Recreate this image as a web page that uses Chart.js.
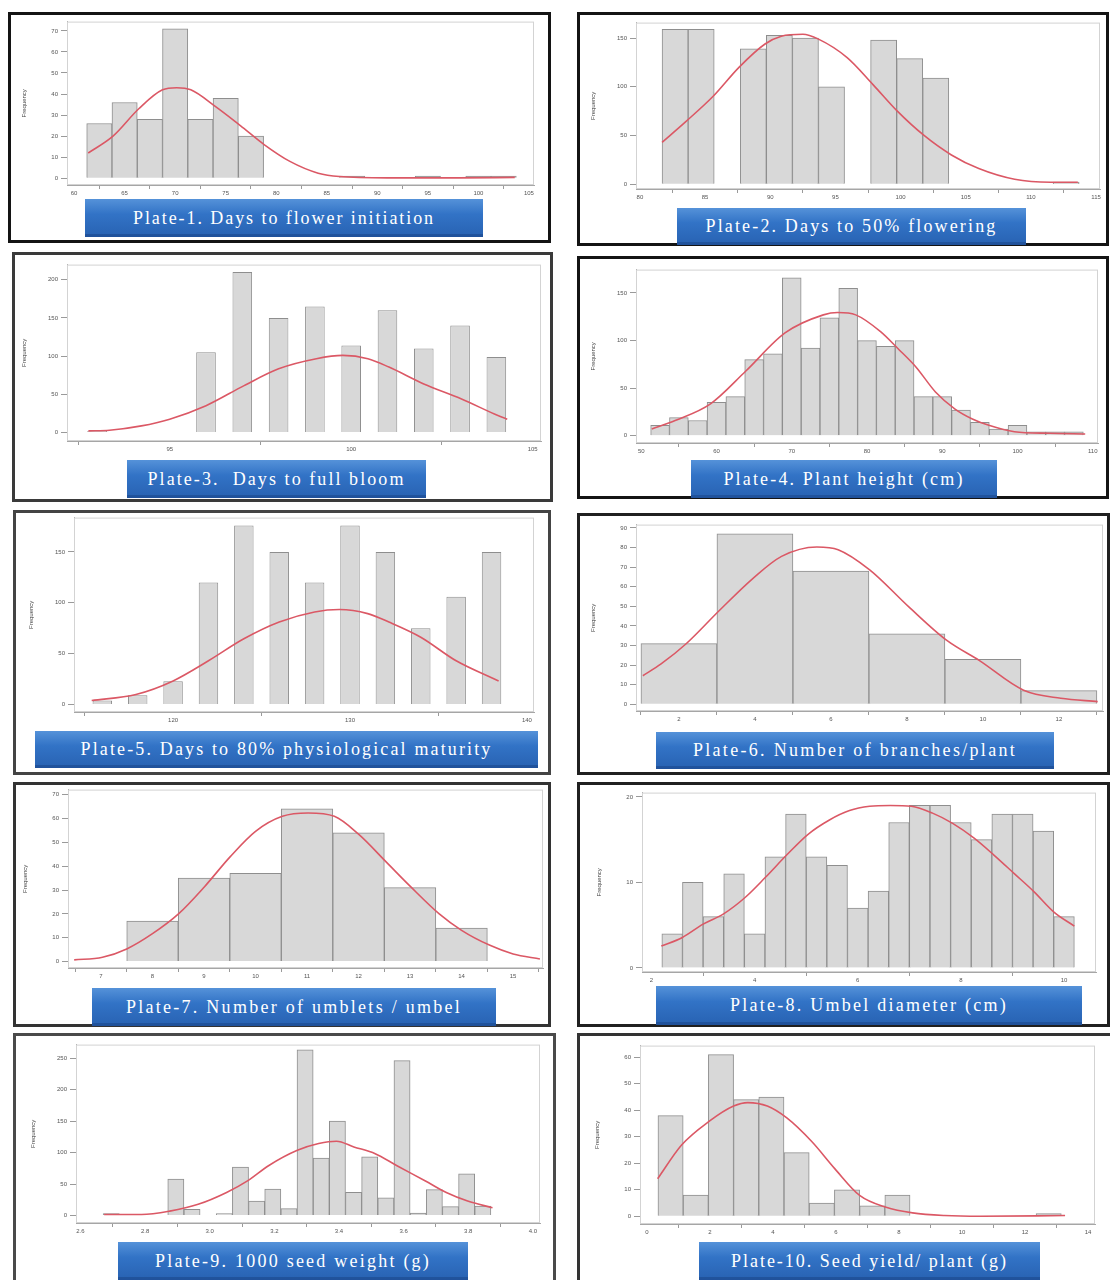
<!DOCTYPE html>
<html>
<head>
<meta charset="utf-8">
<script src="https://cdn.jsdelivr.net/npm/chart.js@4/dist/chart.umd.min.js"></script>
<style>
  html, body { margin: 0; padding: 0; background: #fff; }
  body { position: relative; width: 1110px; height: 1280px; overflow: hidden; }
  .panel { position: absolute; box-sizing: border-box; border: 3px solid #151515; background: #fff; }
  .cap {
    position: absolute; box-sizing: border-box; z-index: 3;
    display: flex; align-items: center; justify-content: center;
    color: #fff; font-family: "Liberation Serif", "DejaVu Serif", serif; font-size: 18px;
    white-space: pre;
    background: linear-gradient(180deg, #5592d9 0%, #3273c6 40%, #2862b2 100%);
    box-shadow: inset 0 -3px 0 rgba(18, 52, 112, 0.35);
  }
  canvas { position: absolute; z-index: 2; }
</style>
</head>
<body>
<script>
// ---------- Plate-1: Days to flower initiation ----------
const p1Bins   = [62.5, 65, 67.5, 70, 72.5, 75, 77.5, 80, 82.5, 85, 87.5, 90, 92.5, 95, 97.5, 100, 102.5];
const p1Counts = [26, 36, 28, 71, 28, 38, 20, 0, 0, 0, 1, 0, 0, 1, 0, 1, 1];
const p1CurveX = [61.4, 63.85, 66.4, 68.75, 70.15, 71.55, 74.0, 76.45, 78.8, 81.35, 84.15, 86.25, 91, 98, 103.6];
const p1CurveY = [12, 20, 33, 42, 43, 42, 34, 25, 16, 8, 2.4, 0.8, 0.2, 0.2, 0.4];
const p1XTicks = [60, 65, 70, 75, 80, 85, 90, 95, 100, 105];
const p1YTicks = [0, 10, 20, 30, 40, 50, 60, 70];

// ---------- Plate-2: Days to 50% flowering ----------
const p2Bins   = [82.7, 84.7, 86.7, 88.7, 90.7, 92.7, 94.7, 96.7, 98.7, 100.7, 102.7, 104.7, 106.7, 108.7, 110.7, 112.7];
const p2Counts = [159, 159, 0, 139, 153, 150, 100, 0, 148, 129, 109, 0, 0, 0, 0, 2];
const p2CurveX = [81.7, 83.5, 85.6, 87.6, 89.6, 90.85, 92.5, 93.7, 95.9, 97.9, 99.75, 101.8, 103.9, 106, 108.75, 111.5, 113.6];
const p2CurveY = [43, 64, 90, 120, 144, 152, 154, 149, 130, 102, 75, 50, 30, 16, 5, 2, 2];
const p2XTicks = [80, 85, 90, 95, 100, 105, 110, 115];
const p2YTicks = [0, 50, 100, 150];

// ---------- Plate-3: Days to full bloom ----------
const p3Bins   = [93, 94, 95, 96, 97, 98, 99, 100, 101, 102, 103, 104];
const p3Counts = [2, 0, 0, 105, 210, 150, 165, 114, 160, 110, 140, 99];
const p3CurveX = [92.76, 93.34, 94.22, 95.0, 96.0, 97.05, 98.0, 99.04, 99.77, 100.46, 101.04, 102.0, 103.04, 104.06, 104.3];
const p3CurveY = [2.2, 3.1, 8.8, 17.6, 35.2, 61.5, 83.5, 96.7, 101, 96.7, 85.7, 63.7, 44, 22, 17.6];
const p3XTicks = [95, 100, 105];
const p3YTicks = [0, 50, 100, 150, 200];

// ---------- Plate-4: Plant height (cm) ----------
const p4Bins   = [52.5, 55, 57.5, 60, 62.5, 65, 67.5, 70, 72.5, 75, 77.5, 80, 82.5, 85, 87.5, 90, 92.5, 95, 97.5, 100, 102.5, 105, 107.5];
const p4Counts = [11, 19, 16, 35, 41, 80, 86, 166, 92, 124, 155, 100, 94, 100, 41, 41, 27, 14, 7, 11, 4, 4, 4];
const p4CurveX = [51.4, 54.5, 59.2, 63.9, 69.1, 74.2, 76.1, 78.5, 81.8, 84.1, 86.5, 89.1, 91.7, 94.0, 96.3, 99.6, 104.3, 109];
const p4CurveY = [7, 16, 33.5, 68, 108, 127, 129.5, 127, 109.4, 91.7, 72.3, 46, 28, 17.6, 10.6, 4.2, 2.5, 1.8];
const p4XTicks = [50, 60, 70, 80, 90, 100, 110];
const p4YTicks = [0, 50, 100, 150];

// ---------- Plate-5: Days to 80% physiological maturity ----------
const p5Bins   = [116, 118, 120, 122, 124, 126, 128, 130, 132, 134, 136, 138];
const p5Counts = [4, 9, 23, 120, 176, 150, 120, 176, 150, 75, 106, 150];
const p5CurveX = [115.4, 117.9, 120, 122, 124, 126, 128, 129.4, 131, 132.2, 134, 136, 138.4];
const p5CurveY = [4, 9.9, 23.2, 43, 64.6, 81.1, 91, 93.4, 89.4, 81.1, 66.2, 43, 23.2];
const p5XTicks = [120, 130, 140];
const p5YTicks = [0, 50, 100, 150];

// ---------- Plate-6: Number of branches/plant ----------
const p6Bins   = [2, 4, 6, 8, 10, 12];
const p6Counts = [31, 87, 68, 36, 23, 7];
const p6CurveX = [1.05, 1.53, 2.19, 3.07, 3.95, 4.7, 5.63, 6.19, 7.02, 8.05, 9.05, 9.91, 11.07, 12.05, 13.02];
const p6CurveY = [14.6, 20.6, 30.9, 48, 64.3, 75.5, 80.3, 78.9, 68.6, 49.7, 32.6, 22.3, 7.2, 3.1, 1.4];
const p6XTicks = [2, 4, 6, 8, 10, 12];
const p6YTicks = [0, 10, 20, 30, 40, 50, 60, 70, 80, 90];

// ---------- Plate-7: Number of umblets / umbel ----------
const p7Bins   = [8, 9, 10, 11, 12, 13, 14];
const p7Counts = [17, 35, 37, 64, 54, 31, 14];
const p7CurveX = [6.48, 7.03, 7.5, 8.0, 8.51, 9.01, 9.51, 10.0, 10.52, 11.02, 11.53, 12.01, 12.53, 13.01, 13.56, 14.0, 14.55, 15.0, 15.52];
const p7CurveY = [0.7, 1.8, 5.3, 11.7, 20.1, 31.4, 44, 54.6, 60.9, 62.3, 60.9, 53.2, 41.9, 31.4, 20.1, 13.1, 6.8, 3.2, 1.1];
const p7XTicks = [7, 8, 9, 10, 11, 12, 13, 14, 15];
const p7YTicks = [0, 10, 20, 30, 40, 50, 60, 70];

// ---------- Plate-8: Umbel diameter (cm) ----------
const p8Bins   = [2.4, 2.8, 3.2, 3.6, 4.0, 4.4, 4.8, 5.2, 5.6, 6.0, 6.4, 6.8, 7.2, 7.6, 8.0, 8.4, 8.8, 9.2, 9.6, 10.0];
const p8Counts = [4, 10, 6, 11, 4, 13, 18, 13, 12, 7, 9, 17, 19, 19, 17, 15, 18, 18, 16, 6];
const p8CurveX = [2.19, 2.59, 3.0, 3.39, 3.82, 4.21, 4.62, 5.03, 5.45, 5.84, 6.23, 6.63, 7.04, 7.45, 7.84, 8.25, 8.64, 9.04, 9.42, 9.81, 10.2];
const p8CurveY = [2.56, 3.54, 5.12, 6.3, 8.27, 10.6, 13.2, 15.6, 17.3, 18.4, 18.9, 19.0, 18.9, 18.1, 16.9, 15.2, 13.2, 11.0, 8.9, 6.5, 4.9];
const p8XTicks = [2, 4, 6, 8, 10];
const p8YTicks = [0, 10, 20];

// ---------- Plate-9: 1000 seed weight (g) ----------
const p9Bins   = [2.695, 2.745, 2.795, 2.845, 2.895, 2.945, 2.995, 3.045, 3.095, 3.145, 3.195, 3.245,
                  3.295, 3.345, 3.395, 3.445, 3.495, 3.545, 3.595, 3.645, 3.695, 3.745, 3.795, 3.845];
const p9Counts = [3, 0, 0, 0, 58, 10, 0, 3, 77, 23, 42, 11, 263, 91, 150, 37, 93, 28, 246, 4, 41, 14, 66, 15];
const p9CurveX = [2.673, 2.789, 2.876, 2.964, 3.052, 3.118, 3.183, 3.271, 3.337, 3.392, 3.446, 3.512, 3.578, 3.666, 3.732, 3.798, 3.875];
const p9CurveY = [1.6, 1.6, 7, 17.7, 36.5, 55.3, 79.4, 103.5, 114.2, 118, 108.9, 98.2, 79.4, 55.3, 36.5, 23, 12.3];
const p9XTicks = [2.6, 2.8, 3.0, 3.2, 3.4, 3.6, 3.8, 4.0];
const p9YTicks = [0, 50, 100, 150, 200, 250];

// ---------- Plate-10: Seed yield/ plant (g) ----------
const p10Bins   = [0.75, 1.55, 2.35, 3.15, 3.95, 4.75, 5.55, 6.35, 7.15, 7.95, 8.75, 9.55, 10.35, 11.15, 11.95, 12.75];
const p10Counts = [38, 8, 61, 44, 45, 24, 5, 10, 4, 8, 0, 0, 0, 0, 0, 1];
const p10CurveX = [0.34, 1.10, 1.97, 2.75, 3.2, 3.82, 4.44, 5.23, 5.96, 6.75, 7.59, 8.43, 9.44, 10.57, 13.27];
const p10CurveY = [14.2, 26.9, 35.8, 41.6, 42.9, 41.6, 37.1, 28.2, 18, 7.9, 3.4, 1.3, 0.3, 0, 0.3];
const p10XTicks = [0, 2, 4, 6, 8, 10, 12, 14];
const p10YTicks = [0, 10, 20, 30, 40, 50, 60];

const captions = [
  "Plate-1. Days to flower initiation",
  "Plate-2. Days to 50% flowering",
  "Plate-3.  Days to full bloom",
  "Plate-4. Plant height (cm)",
  "Plate-5. Days to 80% physiological maturity",
  "Plate-6. Number of branches/plant",
  "Plate-7. Number of umblets / umbel",
  "Plate-8. Umbel diameter (cm)",
  "Plate-9. 1000 seed weight (g)",
  "Plate-10. Seed yield/ plant (g)"
];

// Layout of each plate: frame box, plot area, axis ranges, caption box
const plates = [
  { bins: p1Bins, counts: p1Counts, cx: p1CurveX, cy: p1CurveY, xt: p1XTicks, yt: p1YTicks, xdec: 0,
    box: [8, 12, 543, 231], edge: '#141414', area: [67, 21, 534, 185], xr: [59.3, 105.5], yr: [-3.2, 74.4], bar: 1,
    cap: [85, 199, 398, 38], capText: 302 },
  { bins: p2Bins, counts: p2Counts, cx: p2CurveX, cy: p2CurveY, xt: p2XTicks, yt: p2YTicks, xdec: 0,
    box: [577, 12, 532, 234], edge: '#141414', area: [636, 22, 1100, 189], xr: [79.7, 115.3], yr: [-5, 166], bar: 1,
    cap: [677, 208, 349, 37], capText: 292 },
  { bins: p3Bins, counts: p3Counts, cx: p3CurveX, cy: p3CurveY, xt: p3XTicks, yt: p3YTicks, xdec: 0,
    box: [12, 252, 541, 250], edge: '#3a3a3a', area: [67, 264, 541, 441], xr: [92.17, 105.23], yr: [-11, 219.8], bar: 0.54,
    cap: [127, 460, 299, 38], capText: 258 },
  { bins: p4Bins, counts: p4Counts, cx: p4CurveX, cy: p4CurveY, xt: p4XTicks, yt: p4YTicks, xdec: 0,
    box: [577, 256, 532, 243], edge: '#141414', area: [636, 269, 1098, 443], xr: [49.3, 110.7], yr: [-7.7, 174.6], bar: 1,
    cap: [691, 460, 306, 38], capText: 241 },
  { bins: p5Bins, counts: p5Counts, cx: p5CurveX, cy: p5CurveY, xt: p5XTicks, yt: p5YTicks, xdec: 0,
    box: [13, 510, 538, 265], edge: '#444444', area: [74, 517, 534, 712], xr: [114.4, 140.4], yr: [-7.35, 183.8], bar: 0.55,
    cap: [35, 731, 503, 37], capText: 412 },
  { bins: p6Bins, counts: p6Counts, cx: p6CurveX, cy: p6CurveY, xt: p6XTicks, yt: p6YTicks, xdec: 0,
    box: [577, 513, 533, 262], edge: '#202020', area: [636, 524, 1103, 711], xr: [0.87, 13.16], yr: [-3.4, 91.7], bar: 1,
    cap: [656, 732, 398, 37], capText: 324 },
  { bins: p7Bins, counts: p7Counts, cx: p7CurveX, cy: p7CurveY, xt: p7XTicks, yt: p7YTicks, xdec: 0,
    box: [13, 782, 538, 245], edge: '#333333', area: [68, 789, 543, 968], xr: [6.36, 15.58], yr: [-2.7, 72.1], bar: 1,
    cap: [92, 988, 404, 38], capText: 336 },
  { bins: p8Bins, counts: p8Counts, cx: p8CurveX, cy: p8CurveY, xt: p8XTicks, yt: p8YTicks, xdec: 0,
    box: [577, 782, 533, 245], edge: '#202020', area: [642, 792, 1096, 972], xr: [1.815, 10.62], yr: [-0.47, 20.5], bar: 1,
    cap: [656, 986, 426, 39], capText: 278 },
  { bins: p9Bins, counts: p9Counts, cx: p9CurveX, cy: p9CurveY, xt: p9XTicks, yt: p9YTicks, xdec: 1,
    box: [13, 1033, 543, 260], edge: '#4a4a4a', area: [76, 1044, 540, 1223], xr: [2.586, 4.022], yr: [-11.9, 271.4], bar: 1,
    cap: [118, 1242, 350, 38], capText: 276 },
  { bins: p10Bins, counts: p10Counts, cx: p10CurveX, cy: p10CurveY, xt: p10XTicks, yt: p10YTicks, xdec: 0,
    box: [577, 1033, 540, 260], edge: '#333333', area: [640, 1045, 1095, 1224], xr: [-0.22, 14.22], yr: [-2.9, 64.4], bar: 1,
    cap: [699, 1242, 341, 38], capText: 277 }
];

// light grey frame round the plot area, drawn under the bars
const plotFrame = {
  id: 'plotFrame',
  beforeDatasetsDraw(chart) {
    const { ctx, chartArea: a } = chart;
    ctx.save();
    ctx.strokeStyle = '#d3d3d3';
    ctx.lineWidth = 1;
    ctx.strokeRect(a.left + 0.5, a.top + 0.5, a.right - a.left - 1, a.bottom - a.top - 1);
    ctx.restore();
  }
};

const WY = 52, HX = 14, PT = 6, PR = 10;
const tickFont = { family: '"Liberation Sans", Arial, sans-serif', size: 6 };
const measure = document.createElement('canvas').getContext('2d');

plates.forEach((p, i) => {
  const frame = document.createElement('div');
  frame.className = 'panel';
  frame.style.left = p.box[0] + 'px';
  frame.style.top = p.box[1] + 'px';
  frame.style.width = p.box[2] + 'px';
  frame.style.height = p.box[3] + 'px';
  frame.style.borderColor = p.edge;
  document.body.appendChild(frame);

  const [x0, y0, x1, y1] = p.area;
  const w = x1 - x0 + WY + PR, h = y1 - y0 + PT + HX;
  const cv = document.createElement('canvas');
  cv.width = w; cv.height = h;
  cv.style.left = (x0 - WY) + 'px';
  cv.style.top = (y0 - PT) + 'px';
  cv.style.width = w + 'px';
  cv.style.height = h + 'px';
  document.body.appendChild(cv);

  new Chart(cv, {
    type: 'bar',
    data: {
      datasets: [
        {
          type: 'line',
          data: p.cx.map((x, k) => ({ x: x, y: p.cy[k] })),
          borderColor: '#db5865',
          borderWidth: 1.6,
          pointRadius: 0,
          cubicInterpolationMode: 'monotone',
          fill: false,
          order: 0
        },
        {
          type: 'bar',
          data: p.bins.map((x, k) => ({ x: x, y: p.counts[k] })),
          backgroundColor: '#d8d8d8',
          borderColor: '#8e8e8e',
          borderWidth: 1,
          borderSkipped: 'bottom',
          barPercentage: p.bar,
          categoryPercentage: 1,
          order: 1
        }
      ]
    },
    options: {
      responsive: false,
      animation: false,
      devicePixelRatio: 1,
      layout: { padding: { top: PT, right: PR, left: 0, bottom: 0 }, autoPadding: false },
      plugins: { legend: { display: false }, tooltip: { enabled: false } },
      scales: {
        x: {
          type: 'linear', offset: false, min: p.xr[0], max: p.xr[1],
          afterBuildTicks: s => { s.ticks = p.xt.map(v => ({ value: v })); },
          afterFit: s => { s.height = HX; },
          ticks: { font: tickFont, color: '#555', padding: 1, maxRotation: 0, autoSkip: false,
                   callback: v => Number(v).toFixed(p.xdec) },
          grid: { display: true, drawOnChartArea: false, drawTicks: true, tickLength: 4, color: '#9a9a9a' },
          border: { display: true, color: '#a6a6a6' }
        },
        y: {
          type: 'linear', min: p.yr[0], max: p.yr[1],
          afterBuildTicks: s => { s.ticks = p.yt.map(v => ({ value: v })); },
          afterFit: s => { s.width = WY; },
          ticks: { font: tickFont, color: '#555', padding: 3, callback: v => String(v) },
          grid: { display: true, drawOnChartArea: false, drawTicks: true, tickLength: 6, color: '#9a9a9a' },
          border: { display: true, color: '#a6a6a6' },
          title: { display: true, text: 'Frequency', color: '#444',
                   font: { family: '"Liberation Sans", Arial, sans-serif', size: 6 }, padding: { top: 6, bottom: 0 } }
        }
      }
    },
    plugins: [plotFrame]
  });

  const cap = document.createElement('div');
  cap.className = 'cap';
  cap.style.left = p.cap[0] + 'px';
  cap.style.top = p.cap[1] + 'px';
  cap.style.width = p.cap[2] + 'px';
  cap.style.height = p.cap[3] + 'px';
  cap.textContent = captions[i];
  measure.font = '18px "Liberation Serif"';
  const tw = measure.measureText(captions[i]).width;
  cap.style.letterSpacing = ((p.capText - tw) / captions[i].length).toFixed(2) + 'px';
  document.body.appendChild(cap);
});
</script>
</body>
</html>
